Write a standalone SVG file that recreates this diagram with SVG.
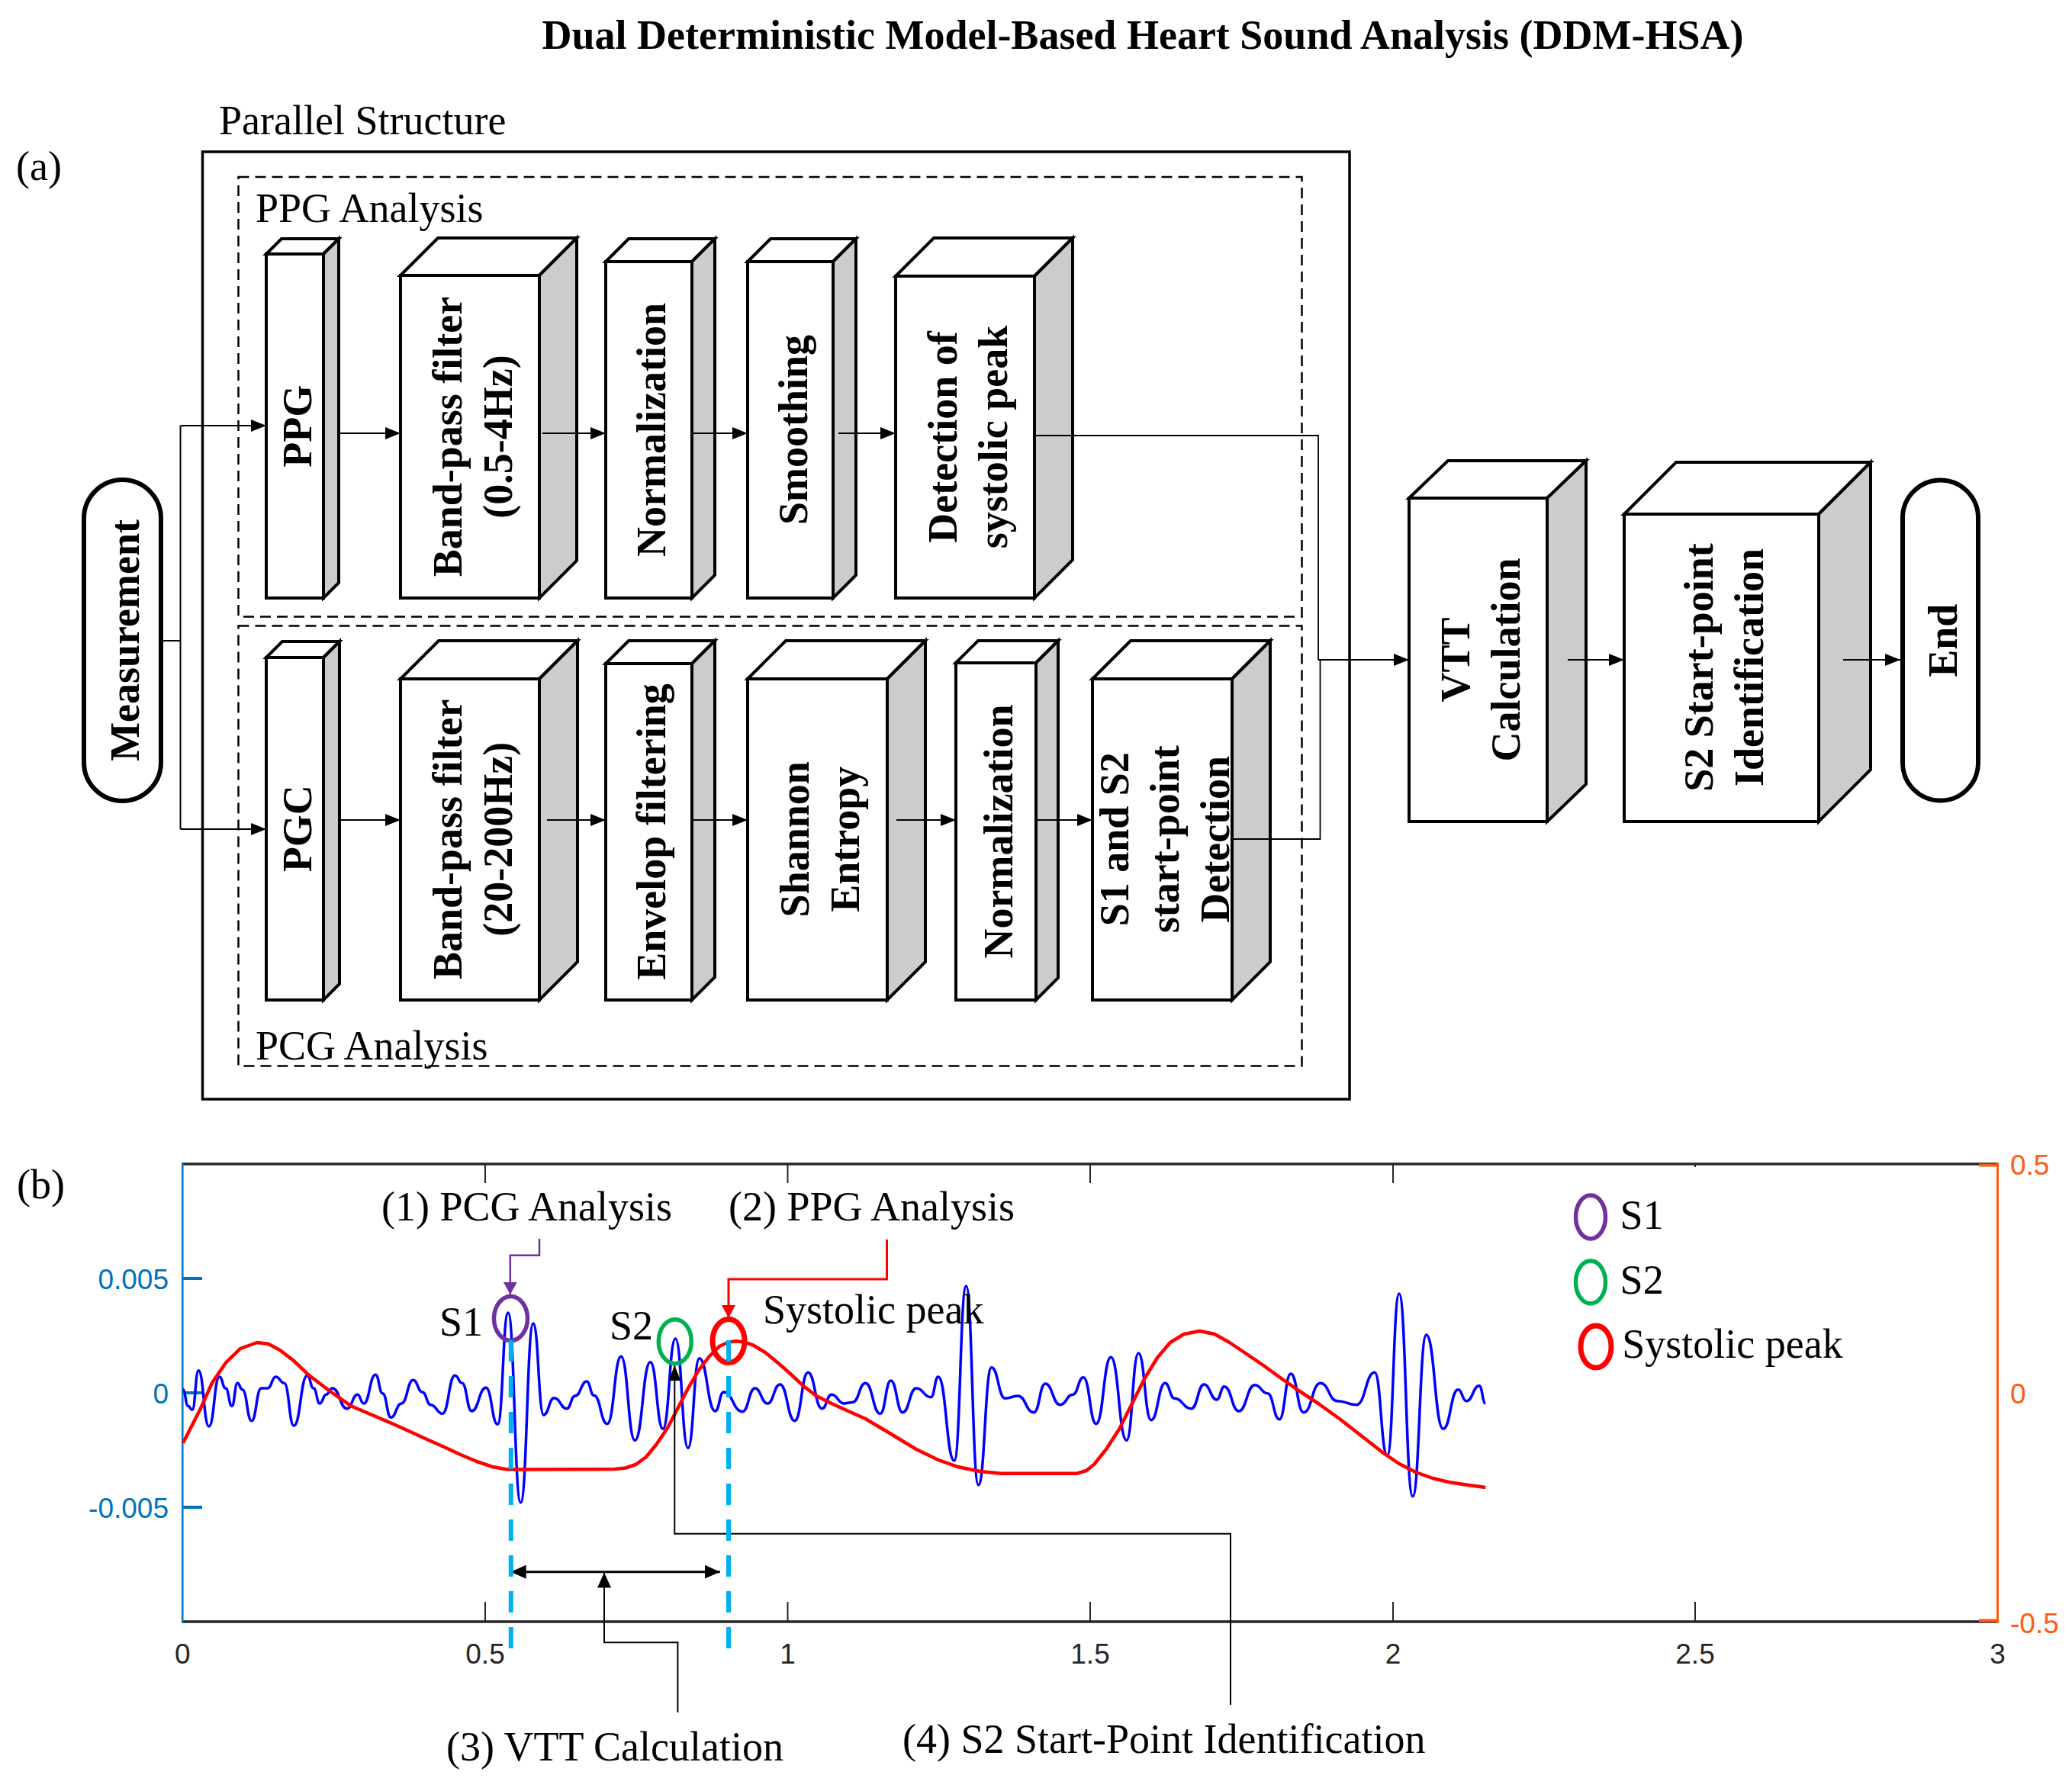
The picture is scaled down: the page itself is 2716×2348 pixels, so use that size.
<svg xmlns="http://www.w3.org/2000/svg" width="2716" height="2348" viewBox="0 0 2716 2348">
<defs>
<style>
.front{fill:#fff;stroke:#000;stroke-width:4}
.top{fill:#fff;stroke:#000;stroke-width:4;stroke-linejoin:miter}
.side{fill:#ccc;stroke:#000;stroke-width:4;stroke-linejoin:miter}
.cap{fill:#fff;stroke:#000;stroke-width:6}
.bl{font-family:"Liberation Serif","Times New Roman",serif;font-weight:bold;font-size:54px;text-anchor:middle;fill:#000}
.rt{font-family:"Liberation Serif","Times New Roman",serif;font-size:54px;fill:#000}
.conn{stroke:#000;stroke-width:2;fill:none}
.thin{stroke:#000;stroke-width:1.8;fill:none}
.dash{fill:none;stroke:#000;stroke-width:2.5;stroke-dasharray:14 8}
.ax{font-family:"Liberation Sans",Arial,sans-serif;font-size:37px}
.vd{stroke:#00B0F0;stroke-width:6;stroke-dasharray:28 19;fill:none}
</style>
<marker id="ah" viewBox="0 0 20 16" refX="20" refY="8" markerWidth="20" markerHeight="16" markerUnits="userSpaceOnUse" orient="auto"><path d="M0,0 L20,8 L0,16 Z" fill="#000"/></marker>
<marker id="ah2" viewBox="0 0 20 18" refX="20" refY="9" markerWidth="20" markerHeight="18" markerUnits="userSpaceOnUse" orient="auto-start-reverse"><path d="M0,0 L20,9 L0,18 Z" fill="#000"/></marker>
<marker id="ahp" viewBox="0 0 16 18" refX="16" refY="9" markerWidth="16" markerHeight="18" markerUnits="userSpaceOnUse" orient="auto"><path d="M0,0 L16,9 L0,18 Z" fill="#7030A0"/></marker>
<marker id="ahr" viewBox="0 0 17 18" refX="17" refY="9" markerWidth="17" markerHeight="18" markerUnits="userSpaceOnUse" orient="auto"><path d="M0,0 L17,9 L0,18 Z" fill="#FF0000"/></marker>
</defs>
<rect width="2716" height="2348" fill="#fff"/>

<text class="bl" x="1498" y="64">Dual Deterministic Model-Based Heart Sound Analysis (DDM-HSA)</text>
<text class="rt" x="287" y="176">Parallel Structure</text>
<text class="rt" x="21" y="236">(a)</text>

<g id="frames">
<rect x="265.5" y="199" width="1503.5" height="1242" fill="none" stroke="#000" stroke-width="3.5"/>
<rect class="dash" x="312.5" y="232" width="1394" height="576.5"/>
<rect class="dash" x="312.5" y="820.5" width="1394" height="577"/>
<text class="rt" x="335" y="291">PPG Analysis</text>
<text class="rt" x="335" y="1389">PCG Analysis</text>
</g>

<g id="measurement">
<rect class="cap" x="110" y="629" width="101" height="421" rx="50.5" ry="50.5"/>
<text class="bl" transform="translate(160.6,839.5) rotate(-90)"><tspan x="0" y="21.6">Measurement</tspan></text>
</g>

<g id="ppg">
<rect class="front" x="349" y="333" width="75" height="451"/>
<polygon class="top" points="349,333 369,313 444,313 424,333"/>
<polygon class="side" points="424,333 444,313 444,764 424,784"/>
<text class="bl" transform="translate(386.5,558.7) rotate(-90)"><tspan x="0" y="21.6">PPG</tspan></text>
</g>
<g id="bpf1">
<rect class="front" x="525" y="361" width="182" height="423"/>
<polygon class="top" points="525,361 574,312 756,312 707,361"/>
<polygon class="side" points="707,361 756,312 756,735 707,784"/>
<text class="bl" transform="translate(616,572.5) rotate(-90)"><tspan x="0" y="-11.4">Band-pass filter</tspan><tspan x="0" y="54.6">(0.5-4Hz)</tspan></text>
</g>
<g id="norm1">
<rect class="front" x="794" y="343" width="113" height="441"/>
<polygon class="top" points="794,343 824,313 937,313 907,343"/>
<polygon class="side" points="907,343 937,313 937,754 907,784"/>
<text class="bl" transform="translate(850,563.5) rotate(-90)"><tspan x="0" y="21.6">Normalization</tspan></text>
</g>
<g id="smooth">
<rect class="front" x="980" y="343" width="112" height="441"/>
<polygon class="top" points="980,343 1010,313 1122,313 1092,343"/>
<polygon class="side" points="1092,343 1122,313 1122,754 1092,784"/>
<text class="bl" transform="translate(1036,563.5) rotate(-90)"><tspan x="0" y="21.6">Smoothing</tspan></text>
</g>
<g id="detect">
<rect class="front" x="1174" y="362" width="182" height="422"/>
<polygon class="top" points="1174,362 1224,312 1406,312 1356,362"/>
<polygon class="side" points="1356,362 1406,312 1406,734 1356,784"/>
<text class="bl" transform="translate(1265,573) rotate(-90)"><tspan x="0" y="-11.4">Detection of</tspan><tspan x="0" y="54.6">systolic peak</tspan></text>
</g>

<g id="pgc">
<rect class="front" x="349" y="862" width="75" height="449"/>
<polygon class="top" points="349,862 370,841 445,841 424,862"/>
<polygon class="side" points="424,862 445,841 445,1290 424,1311"/>
<text class="bl" transform="translate(386.5,1086.3) rotate(-90)"><tspan x="0" y="21.6">PGC</tspan></text>
</g>
<g id="bpf2">
<rect class="front" x="525" y="890" width="182" height="421"/>
<polygon class="top" points="525,890 575,840 757,840 707,890"/>
<polygon class="side" points="707,890 757,840 757,1261 707,1311"/>
<text class="bl" transform="translate(616,1100.3) rotate(-90)"><tspan x="0" y="-11.4">Band-pass filter</tspan><tspan x="0" y="54.6">(20-200Hz)</tspan></text>
</g>
<g id="envelop">
<rect class="front" x="794" y="870" width="113" height="441"/>
<polygon class="top" points="794,870 824,840 937,840 907,870"/>
<polygon class="side" points="907,870 937,840 937,1281 907,1311"/>
<text class="bl" transform="translate(850,1090.5) rotate(-90)"><tspan x="0" y="21.6">Envelop filtering</tspan></text>
</g>
<g id="shannon">
<rect class="front" x="980" y="890" width="183" height="421"/>
<polygon class="top" points="980,890 1030,840 1213,840 1163,890"/>
<polygon class="side" points="1163,890 1213,840 1213,1261 1163,1311"/>
<text class="bl" transform="translate(1071.6,1100.3) rotate(-90)"><tspan x="0" y="-11.4">Shannon</tspan><tspan x="0" y="54.6">Entropy</tspan></text>
</g>
<g id="norm2">
<rect class="front" x="1253" y="869" width="105" height="442"/>
<polygon class="top" points="1253,869 1282,840 1387,840 1358,869"/>
<polygon class="side" points="1358,869 1387,840 1387,1282 1358,1311"/>
<text class="bl" transform="translate(1305.5,1090) rotate(-90)"><tspan x="0" y="21.6">Normalization</tspan></text>
</g>
<g id="s1s2">
<rect class="front" x="1432" y="890" width="183" height="421"/>
<polygon class="top" points="1432,890 1482,840 1665,840 1615,890"/>
<polygon class="side" points="1615,890 1665,840 1665,1261 1615,1311"/>
<text class="bl" transform="translate(1523.5,1100.3) rotate(-90)"><tspan x="0" y="-44.4">S1 and S2</tspan><tspan x="0" y="21.6">start-point</tspan><tspan x="0" y="87.6">Detection</tspan></text>
</g>

<g id="vtt">
<rect class="front" x="1847" y="653" width="181" height="424"/>
<polygon class="top" points="1847,653 1898,604 2079,604 2028,653"/>
<polygon class="side" points="2028,653 2079,604 2079,1028 2028,1077"/>
<text class="bl" transform="translate(1937.5,865) rotate(-90)"><tspan x="0" y="-11.4">VTT</tspan><tspan x="0" y="54.6">Calculation</tspan></text>
</g>
<g id="s2sp">
<rect class="front" x="2129" y="674" width="255" height="403"/>
<polygon class="top" points="2129,674 2197,606 2452,606 2384,674"/>
<polygon class="side" points="2384,674 2452,606 2452,1009 2384,1077"/>
<text class="bl" transform="translate(2256.5,875) rotate(-90)"><tspan x="0" y="-11.4">S2 Start-point</tspan><tspan x="0" y="54.6">Identification</tspan></text>
</g>
<g id="end">
<rect class="cap" x="2494" y="629.5" width="99" height="420" rx="49.5" ry="49.5"/>
<text class="bl" transform="translate(2543.4,839.8) rotate(-90)"><tspan x="0" y="21.6">End</tspan></text>
</g>

<g id="connectors">
<path class="conn" d="M213,840 H236.5 M236.5,558 V1087"/>
<path class="conn" d="M236.5,558 H349" marker-end="url(#ah)"/>
<path class="conn" d="M236.5,1087 H349" marker-end="url(#ah)"/>
<path class="conn" d="M444,568 H525" marker-end="url(#ah)"/>
<path class="conn" d="M711,568 H794" marker-end="url(#ah)"/>
<path class="conn" d="M907,568 H980" marker-end="url(#ah)"/>
<path class="conn" d="M1099,568 H1174" marker-end="url(#ah)"/>
<path class="conn" d="M445,1075 H525" marker-end="url(#ah)"/>
<path class="conn" d="M717,1075 H794" marker-end="url(#ah)"/>
<path class="conn" d="M907,1075 H980" marker-end="url(#ah)"/>
<path class="conn" d="M1175,1075 H1253" marker-end="url(#ah)"/>
<path class="conn" d="M1358,1075 H1432" marker-end="url(#ah)"/>
<polyline class="thin" points="1356,571 1728,571 1728,865"/>
<polyline class="thin" points="1615,1100 1730.5,1100 1730.5,865"/>
<path class="conn" d="M1728,865 H1847" marker-end="url(#ah)"/>
<path class="conn" d="M2055,865 H2129" marker-end="url(#ah)"/>
<path class="conn" d="M2416,865 H2491" marker-end="url(#ah)"/>
</g>

<g id="plot">
<text class="rt" x="22" y="1571">(b)</text>
<line x1="238" y1="1526" x2="2618" y2="1526" stroke="#262626" stroke-width="3.5"/>
<line x1="238" y1="2126" x2="2618" y2="2126" stroke="#262626" stroke-width="3.5"/>
<line x1="239.3" y1="1524" x2="239.3" y2="2128" stroke="#0072BD" stroke-width="2.5"/>
<line x1="2618.5" y1="1524" x2="2618.5" y2="2128" stroke="#FF5B14" stroke-width="3"/>
<path d="M239,1676 H265 M239,1826 H265 M239,1976 H265" stroke="#0072BD" stroke-width="4"/>
<path d="M2594,1527.5 H2618 M2594,2124.5 H2618" stroke="#FF5B14" stroke-width="4"/>
<path d="M636,2126 V2100 M1032.5,2126 V2100 M1429,2126 V2100 M1826,2126 V2100 M2222,2126 V2100 M636,1526 V1551 M1032.5,1526 V1551 M1429,1526 V1551 M1826,1526 V1551 M2222,1526 V1530" stroke="#262626" stroke-width="2"/>
<g class="ax" fill="#262626" text-anchor="middle">
<text x="239.3" y="2181">0</text><text x="636" y="2181">0.5</text><text x="1032.5" y="2181">1</text><text x="1429" y="2181">1.5</text><text x="1826" y="2181">2</text><text x="2222" y="2181">2.5</text><text x="2618.5" y="2181">3</text>
</g>
<g class="ax" fill="#0072BD" text-anchor="end">
<text x="221" y="1690">0.005</text><text x="221" y="1840">0</text><text x="221" y="1990">-0.005</text>
</g>
<g class="ax" fill="#FF5B14">
<text x="2635" y="1540">0.5</text><text x="2635" y="1840">0</text><text x="2635" y="2141">-0.5</text>
</g>

<path fill="none" stroke="#0000FF" stroke-width="3.5" stroke-linejoin="round" d="M239.9,1821.7 C243.2,1821.7 243.2,1843.3 246.5,1843.3 C249.3,1843.3 249.3,1848.3 252,1848.3 C256.1,1848.3 256.1,1796.7 260.2,1796.7 C267,1796.7 267,1870 273.9,1870 C280.8,1870 280.8,1805 287.6,1805 C291.7,1805 291.7,1820 295.8,1820 C299.9,1820 299.9,1843.3 304,1843.3 C307.6,1843.3 307.6,1813.3 311.2,1813.3 C314.5,1813.3 314.5,1821.7 317.8,1821.7 C323.8,1821.7 323.8,1862.7 329.8,1862.7 C336.1,1862.7 336.1,1820 342.4,1820 L350.7,1820 C356.2,1820 356.2,1805 361.6,1805 C367.1,1805 367.1,1813.3 372.6,1813.3 C378.9,1813.3 378.9,1869.3 385.2,1869.3 C394,1869.3 394,1803.3 402.8,1803.3 C406.9,1803.3 406.9,1820 411,1820 C415.1,1820 415.1,1840 419.2,1840 C423.3,1840 423.3,1828.3 427.4,1828.3 C431.6,1828.3 431.6,1820 435.7,1820 C445.3,1820 445.3,1846.7 454.9,1846.7 C461.8,1846.7 461.8,1828.3 468.6,1828.3 C472.7,1828.3 472.7,1840 476.8,1840 C484.5,1840 484.5,1802.3 492.2,1802.3 C496.9,1802.3 496.9,1826.7 501.5,1826.7 C507,1826.7 507,1858.3 512.4,1858.3 C519.3,1858.3 519.3,1840 526.2,1840 C533.9,1840 533.9,1809.3 541.5,1809.3 C547.6,1809.3 547.6,1825 553.6,1825 C559.1,1825 559.1,1841.7 564.6,1841.7 C572.3,1841.7 572.3,1853.3 579.9,1853.3 C588.2,1853.3 588.2,1803.3 596.4,1803.3 C601.1,1803.3 601.1,1813.3 605.7,1813.3 C612,1813.3 612,1850 618.3,1850 C627.7,1850 627.7,1819.3 637,1819.3 C644.7,1819.3 644.7,1867.3 652.3,1867.3 C659.2,1867.3 659.2,1721 666,1721 C674.3,1721 674.3,1970 682.5,1970 C690.8,1970 690.8,1735 699,1735 C705.8,1735 705.8,1855 712.6,1855 C719.5,1855 719.5,1832.7 726.4,1832.7 C734.6,1832.7 734.6,1846.7 742.8,1846.7 C748.3,1846.7 748.3,1830 753.8,1830 C761.5,1830 761.5,1811 769.1,1811 C773.8,1811 773.8,1829.3 778.5,1829.3 C787.3,1829.3 787.3,1866.7 796,1866.7 C805.1,1866.7 805.1,1778.3 814.1,1778.3 C823.2,1778.3 823.2,1888.3 832.2,1888.3 C842.4,1888.3 842.4,1785.7 852.5,1785.7 C860.8,1785.7 860.8,1873.3 869,1873.3 C877.2,1873.3 877.2,1755 885.4,1755 C893.7,1755 893.7,1898.3 901.9,1898.3 C909.3,1898.3 909.3,1780.7 916.7,1780.7 C927.1,1780.7 927.1,1850 937.5,1850 C943,1850 943,1825 948.5,1825 C960.9,1825 960.9,1850.7 973.2,1850.7 C981.4,1850.7 981.4,1820 989.6,1820 C997.8,1820 997.8,1840 1006,1840 C1014.3,1840 1014.3,1815 1022.5,1815 C1032.1,1815 1032.1,1862.7 1041.7,1862.7 C1050.5,1862.7 1050.5,1799.3 1059.2,1799.3 C1068.3,1799.3 1068.3,1846.7 1077.4,1846.7 C1083.7,1846.7 1083.7,1828.3 1090,1828.3 C1098.3,1828.3 1098.3,1840 1106.6,1840 L1117.7,1838.3 C1126.1,1838.3 1126.1,1813.3 1134.4,1813.3 C1144.1,1813.3 1144.1,1853.3 1153.8,1853.3 C1160.8,1853.3 1160.8,1810 1167.7,1810 C1175.5,1810 1175.5,1851.7 1183.2,1851.7 C1192.1,1851.7 1192.1,1820 1201,1820 C1210.7,1820 1210.7,1831.7 1220.4,1831.7 C1225.1,1831.7 1225.1,1805 1229.8,1805 C1240.4,1805 1240.4,1915 1250.9,1915 C1258.7,1915 1258.7,1686 1266.4,1686 C1274.5,1686 1274.5,1946.7 1282.5,1946.7 C1291.1,1946.7 1291.1,1792.7 1299.7,1792.7 C1308.6,1792.7 1308.6,1833.3 1317.5,1833.3 C1325.8,1833.3 1325.8,1830 1334.1,1830 C1344.7,1830 1344.7,1851.7 1355.2,1851.7 C1362.7,1851.7 1362.7,1814 1370.2,1814 C1379.9,1814 1379.9,1841.7 1389.6,1841.7 C1398,1841.7 1398,1828.3 1406.3,1828.3 C1413.2,1828.3 1413.2,1805.7 1420.1,1805.7 C1428.5,1805.7 1428.5,1866.7 1436.8,1866.7 C1446.5,1866.7 1446.5,1779.3 1456.2,1779.3 C1466.5,1779.3 1466.5,1888.3 1476.7,1888.3 C1484.5,1888.3 1484.5,1774 1492.3,1774 C1500.6,1774 1500.6,1861.7 1508.9,1861.7 C1518.1,1861.7 1518.1,1813.3 1527.2,1813.3 C1533.3,1813.3 1533.3,1833.3 1539.4,1833.3 C1550.5,1833.3 1550.5,1846.7 1561.6,1846.7 C1570,1846.7 1570,1815 1578.3,1815 C1586.6,1815 1586.6,1835 1594.9,1835 C1599.9,1835 1599.9,1817.7 1604.9,1817.7 C1614.4,1817.7 1614.4,1850 1623.8,1850 C1634.3,1850 1634.3,1815.7 1644.8,1815.7 C1653.2,1815.7 1653.2,1826.7 1661.5,1826.7 C1669.3,1826.7 1669.3,1860.7 1677,1860.7 C1684.5,1860.7 1684.5,1801 1692,1801 C1700.4,1801 1700.4,1851.7 1708.7,1851.7 C1719.8,1851.7 1719.8,1813.3 1730.8,1813.3 C1741.9,1813.3 1741.9,1836.7 1753,1836.7 C1765.5,1836.7 1765.5,1841.7 1778,1841.7 C1790,1841.7 1790,1799.3 1801.9,1799.3 C1810.2,1799.3 1810.2,1908.3 1818.5,1908.3 C1826.3,1908.3 1826.3,1696 1834,1696 C1842.9,1696 1842.9,1961.7 1851.8,1961.7 C1860.7,1961.7 1860.7,1750 1869.6,1750 C1880.7,1750 1880.7,1873.3 1891.7,1873.3 C1901.5,1873.3 1901.5,1821.7 1911.2,1821.7 C1916.8,1821.7 1916.8,1836.7 1922.3,1836.7 C1930.7,1836.7 1930.7,1816.7 1939,1816.7 C1943.1,1816.7 1943.1,1840 1947.2,1840"/>
<polyline fill="none" stroke="#FF0000" stroke-width="4.5" stroke-linejoin="round" points="239.9,1891.7 250,1872 262.9,1846.7 278,1813 295.8,1786.7 315,1768 337,1760 352,1762 367,1770 385,1784 405.5,1803.3 430,1822 460.3,1843.3 490,1856 515.2,1866.7 540,1878 559,1886.7 580,1896 603,1906.7 625,1916 646.8,1923.3 662,1926 674.2,1926.5 805.9,1926 820,1924.5 833.3,1920 847,1910 860.7,1893.3 875,1872 888.2,1846.7 902,1820 915.6,1796.7 930,1778 943,1765 955,1759.5 965,1758.3 976,1759.5 986.9,1763.3 1003,1773 1019.8,1786.7 1036,1801 1052.7,1816.7 1070,1830 1090,1840 1112,1850 1134.4,1860 1168,1880 1201,1900 1230,1914 1256.5,1923.3 1285,1929 1312,1931.7 1411.8,1931.7 1424,1928 1434,1920 1450,1900 1467.3,1873.3 1484,1840 1500.6,1806.7 1517,1780 1533.9,1760 1552,1749 1572.7,1745 1592,1749 1611.6,1760 1634,1775 1656,1790 1678,1806 1700.3,1821.7 1728,1840 1755.8,1860 1784,1882 1811.3,1903.3 1834,1919 1855.7,1930 1878,1938 1900,1943.3 1925,1947 1947.2,1950"/>

<polyline fill="none" stroke="#7030A0" stroke-width="2.5" points="707,1624 707,1645.7 668.8,1645.7 668.8,1697" marker-end="url(#ahp)"/>
<polyline fill="none" stroke="#FF0000" stroke-width="3" points="1162.5,1625 1162.5,1677 955,1677 955,1728" marker-end="url(#ahr)"/>
<ellipse cx="669.5" cy="1728.5" rx="22" ry="29" fill="none" stroke="#7030A0" stroke-width="5.5"/>
<ellipse cx="884.8" cy="1758.7" rx="21.5" ry="29" fill="none" stroke="#00B050" stroke-width="5.5"/>
<ellipse cx="955" cy="1758" rx="21" ry="28.5" fill="none" stroke="#FF0000" stroke-width="7"/>
<text class="rt" x="500" y="1600">(1) PCG Analysis</text>
<text class="rt" x="955" y="1600">(2) PPG Analysis</text>
<text class="rt" x="576" y="1751">S1</text>
<text class="rt" x="799" y="1756">S2</text>
<text class="rt" x="1000" y="1735">Systolic peak</text>

<polyline class="conn" points="1613,2235 1613,2010.7 884.3,2010.7 884.3,1790" marker-end="url(#ah)"/>
<line x1="669.6" y1="2060.7" x2="943.8" y2="2060.7" stroke="#000" stroke-width="3" marker-start="url(#ah2)" marker-end="url(#ah2)"/>
<polyline class="conn" points="888.4,2245 888.4,2153.3 792,2153.3 792,2061.5" marker-end="url(#ah2)"/>
<line class="vd" x1="669.8" y1="1757" x2="669.8" y2="2164"/>
<line class="vd" x1="955" y1="1757" x2="955" y2="2164"/>
<text class="rt" x="585" y="2308">(3) VTT Calculation</text>
<text class="rt" x="1183" y="2298">(4) S2 Start-Point Identification</text>

<ellipse cx="2085" cy="1595.5" rx="19.5" ry="28.5" fill="none" stroke="#7030A0" stroke-width="5.5"/>
<ellipse cx="2085" cy="1681" rx="19.5" ry="28" fill="none" stroke="#00B050" stroke-width="5.5"/>
<ellipse cx="2092" cy="1765.5" rx="20" ry="27.5" fill="none" stroke="#FF0000" stroke-width="7"/>
<text class="rt" x="2123.6" y="1610.7">S1</text>
<text class="rt" x="2123.6" y="1696">S2</text>
<text class="rt" x="2126.3" y="1780">Systolic peak</text>
</g>
</svg>
